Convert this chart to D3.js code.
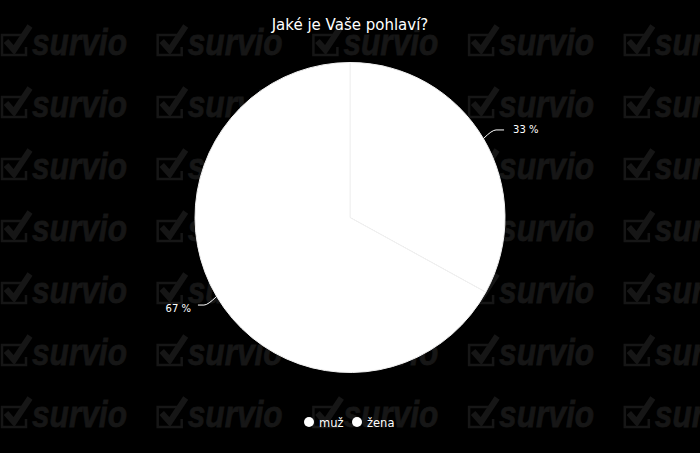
<!DOCTYPE html>
<html>
<head>
<meta charset="utf-8">
<script src="https://cdn.jsdelivr.net/npm/d3@7"></script>
<style>
  body { margin: 0; background: #000; }
  svg { display: block; font-family: "DejaVu Sans", sans-serif; }
</style>
</head>
<body>
<div id="chart"></div>
<script>
var title = "Jaké je Vaše pohlaví?";
var categories = ["muž", "žena"];
var values = [33, 67];
var labels = ["33 %", "67 %"];

var width = 700, height = 453;
var cx = 350, cy = 217.5, r = 155;

var svg = d3.select("#chart").append("svg")
    .attr("width", width)
    .attr("height", height);

svg.append("rect")
    .attr("width", width)
    .attr("height", height)
    .attr("fill", "#000");

// survio watermark grid
var wm = svg.append("g").attr("fill", "#161616").attr("stroke", "#161616");
d3.range(5).forEach(function(i){
    d3.range(7).forEach(function(j){
        var x = 2 + i * 155.7, y = 55 + j * 62;
        var t = wm.append("g").attr("transform", "translate(" + x + "," + y + ")");
        t.append("path")
            .attr("d", "M22,-20 L0,-20 L0,0 L24,0 L24,-8")
            .attr("fill", "none")
            .attr("stroke-width", 2.5);
        t.append("path")
            .attr("d", "M4,-14 L12,-5 L28,-29")
            .attr("fill", "none")
            .attr("stroke-width", 6);
        t.append("text")
            .attr("x", 30)
            .attr("y", 0)
            .attr("stroke-width", 0.8)
            .attr("font-family", "Liberation Sans, sans-serif")
            .attr("font-weight", "bold")
            .attr("font-style", "italic")
            .attr("font-size", 37)
            .attr("textLength", 95)
            .attr("lengthAdjust", "spacingAndGlyphs")
            .text("survio");
    });
});

svg.append("text")
    .attr("x", 350)
    .attr("y", 30)
    .attr("text-anchor", "middle")
    .attr("fill", "#fff")
    .attr("font-size", 15)
    .text(title);

var pie = d3.pie().sort(null);
var arcs = pie(values);
var arc = d3.arc().innerRadius(0).outerRadius(r);

var g = svg.append("g").attr("transform", "translate(" + cx + "," + cy + ")");

g.selectAll("path.slice")
    .data(arcs)
    .enter().append("path")
    .attr("class", "slice")
    .attr("d", arc)
    .attr("fill", "#fff")
    .attr("stroke", "#f0f0f0")
    .attr("stroke-width", 1);

// labels with connectors
arcs.forEach(function(d, i){
    var a = (d.startAngle + d.endAngle) / 2;
    var ex = Math.sin(a) * r, ey = -Math.cos(a) * r;
    var ox = Math.sin(a) * (r + 17), oy = -Math.cos(a) * (r + 17);
    var side = ox > 0 ? 1 : -1;
    var hx = ox + side * (side > 0 ? 6 : 4);
    g.append("path")
        .attr("d", "M" + hx + "," + oy + " L" + (ox - side * 2) + "," + oy +
              " Q" + (ox - side * 6) + "," + oy + " " + ex + "," + ey)
        .attr("fill", "none")
        .attr("stroke", "#fff")
        .attr("stroke-width", 1);
    g.append("text")
        .attr("x", hx + side * (side > 0 ? 9 : 7))
        .attr("y", oy + (side > 0 ? 0 : 3))
        .attr("dy", "0.35em")
        .attr("text-anchor", side > 0 ? "start" : "end")
        .attr("fill", "#fff")
        .attr("font-size", 10)
        .text(labels[i]);
});

// legend
var legend = svg.append("g");
var lx = [309, 357];
categories.forEach(function(c, i){
    legend.append("circle")
        .attr("cx", lx[i])
        .attr("cy", 422)
        .attr("r", 5)
        .attr("fill", "#fff");
    legend.append("text")
        .attr("x", lx[i] + 10)
        .attr("y", 426.5)
        .attr("fill", "#fff")
        .attr("font-size", 11.5)
        .text(c);
});
</script>
</body>
</html>
